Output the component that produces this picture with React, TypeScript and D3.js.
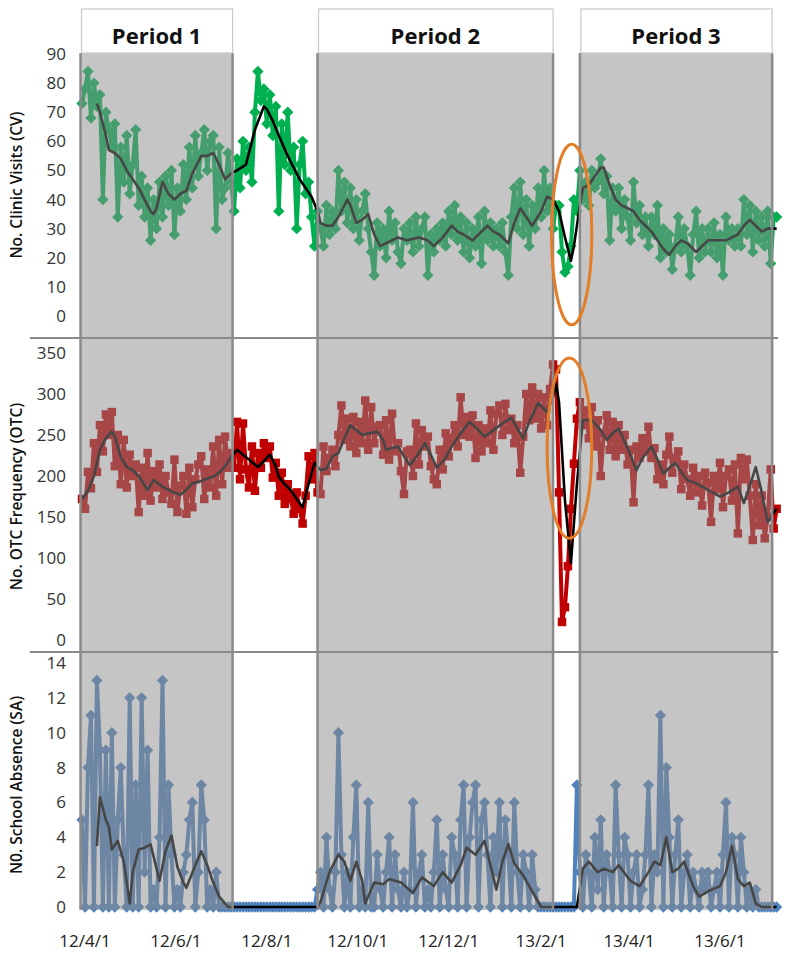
import React from "react";
import * as d3 from "d3";

const W = 789;
const H = 958;

// readings are every second day starting here
const START = new Date(2012, 2, 30);
const STEP_DAYS = 2;

const tickDates = [
  new Date(2012, 3, 1),
  new Date(2012, 5, 1),
  new Date(2012, 7, 1),
  new Date(2012, 9, 1),
  new Date(2012, 11, 1),
  new Date(2013, 1, 1),
  new Date(2013, 3, 1),
  new Date(2013, 5, 1),
];
const tickLabels = ["12/4/1", "12/6/1", "12/8/1", "12/10/1", "12/12/1", "13/2/1", "13/4/1", "13/6/1"];

const periodLabels = ["Period 1", "Period 2", "Period 3"];
const periodStarts = [new Date(2012, 2, 29), new Date(2012, 8, 4), new Date(2013, 1, 27)];
const periodEnds = [new Date(2012, 6, 9), new Date(2013, 1, 9), new Date(2013, 6, 6)];

// clinic visits
const cvValues = [
  73, 78, 84, 68, 80, 72, 76, 40, 70, 64,
  58, 66, 34, 58, 46, 62, 42, 52, 64, 38,
  48, 34, 44, 26, 40, 30, 46, 34, 48, 38,
  50, 28, 44, 36, 52, 40, 58, 44, 62, 48,
  56, 64, 50, 60, 62, 30, 58, 40, 44, 56,
  46, 36, 54, 44, 60, 50, 58, 46, 70, 84,
  74, 78, 66, 76, 62, 72, 36, 66, 52, 70,
  50, 58, 30, 52, 60, 42, 46, 34, 24, 36,
  30, 24, 38, 28, 36, 30, 50, 36, 46, 32,
  44, 30, 40, 26, 36, 42, 30, 22, 14, 32,
  24, 30, 20, 36, 26, 32, 22, 18, 30, 26,
  32, 22, 34, 24, 30, 34, 14, 28, 22, 30,
  26, 32, 24, 36, 28, 38, 26, 34, 22, 32,
  20, 30, 24, 34, 18, 36, 26, 32, 24, 30,
  24, 32, 22, 14, 34, 44, 30, 46, 28, 40,
  24, 38, 30, 44, 34, 50, 36, 44, 30, 38,
  38, 22, 15, 17, 24, 40, 36, 50, 40, 46,
  38, 50, 44, 46, 54, 42, 48, 26, 44, 36,
  44, 30, 40, 34, 26, 46, 32, 38, 28, 34,
  24, 34, 28, 38, 20, 30, 22, 28, 16, 24,
  34, 22, 30, 24, 14, 28, 36, 20, 30, 22,
  30, 22, 32, 20, 28, 14, 34, 26, 30, 24,
  30, 24, 40, 28, 38, 22, 36, 26, 34, 24,
  36, 18, 34, 34,
];
// [step index, value] of the moving average line
const cvTrend: [number, number][] = [
  [5, 73], [6, 70], [8, 62], [9, 57], [11, 56], [13, 54], [15, 50], [17, 47], [19, 44], [21, 40],
  [23, 36], [24, 35], [25, 37], [27, 46], [29, 42], [31, 40], [33, 42], [35, 43], [37, 49], [40, 55],
  [42, 55], [44, 56], [46, 52], [48, 47], [50, 49], [52, 50], [55, 52], [58, 64], [61, 72], [62, 71],
  [64, 67], [66, 62], [69, 55], [71, 51], [73, 47], [75, 44], [77, 41], [79, 36], [80, 32], [82, 31],
  [84, 31], [86, 34], [89, 40], [90, 38], [92, 32], [94, 33], [96, 35], [98, 28], [100, 24], [102, 25],
  [106, 27], [109, 26], [113, 27], [116, 26], [118, 24], [121, 27], [124, 31], [126, 29], [128, 28], [131, 26],
  [134, 29], [136, 31], [138, 29], [140, 28], [143, 25], [145, 32], [147, 37], [149, 34], [151, 31], [154, 36],
  [156, 41], [158, 40], [160, 36], [162, 27], [164, 19], [165, 24], [167, 38], [168, 44], [170, 45], [172, 48],
  [174, 51], [175, 51], [177, 45], [179, 40], [181, 38], [183, 37], [185, 36], [187, 33], [189, 31], [191, 29],
  [193, 26], [195, 23], [197, 21], [199, 24], [201, 26], [203, 25], [204, 24], [206, 22], [208, 24], [210, 26],
  [213, 26], [216, 26], [218, 27], [220, 28], [222, 31], [224, 33], [226, 31], [228, 29], [230, 30], [233, 30],
];

// OTC drug sales
const otcValues = [
  172, 160, 205, 185, 240, 205, 262, 230, 275, 250,
  278, 212, 250, 190, 244, 186, 226, 200, 214, 156,
  210, 176, 228, 170, 206, 186, 214, 172, 200, 180,
  166, 220, 156, 188, 200, 154, 210, 162, 196, 214,
  224, 172, 208, 186, 236, 176, 244, 190, 248, 210,
  228, 210, 266, 196, 264, 208, 186, 236, 182, 228,
  210, 240, 222, 236, 198, 216, 176, 204, 166, 190,
  172, 154, 180, 160, 142, 176, 224, 196, 228, 180,
  178, 236, 206, 222, 232, 212, 250, 286, 244, 270,
  236, 272, 228, 266, 240, 292, 232, 284, 240, 260,
  262, 226, 268, 220, 276, 230, 240, 206, 178, 230,
  232, 200, 264, 214, 256, 236, 248, 212, 196, 190,
  232, 208, 252, 224, 246, 262, 236, 296, 250, 272,
  248, 274, 222, 262, 230, 258, 240, 280, 232, 276,
  286, 250, 288, 256, 270, 240, 262, 204, 248, 300,
  268, 308, 270, 300, 258, 296, 262, 306, 336, 330,
  180, 22, 40, 90, 160, 215, 270, 290, 262, 280,
  246, 284, 236, 268, 200, 252, 274, 232, 266, 224,
  262, 232, 250, 214, 232, 168, 236, 222, 246, 230,
  260, 222, 234, 196, 214, 190, 226, 248, 204, 222,
  230, 184, 214, 196, 176, 210, 180, 200, 164, 204,
  192, 144, 200, 184, 216, 162, 200, 208, 170, 214,
  130, 222, 196, 220, 176, 122, 190, 140, 176, 124,
  150, 208, 136, 160,
];
const otcTrend: [number, number][] = [
  [0, 172], [2, 182], [4, 200], [6, 232], [8, 246], [10, 254], [11, 248], [13, 223], [15, 211], [17, 207],
  [19, 200], [22, 183], [24, 195], [27, 187], [30, 181], [33, 177], [35, 183], [37, 191], [40, 194], [42, 197],
  [44, 199], [46, 204], [48, 212], [50, 223], [52, 232], [54, 226], [56, 220], [59, 211], [61, 218], [63, 226],
  [65, 212], [66, 199], [68, 190], [70, 183], [72, 172], [74, 162], [76, 190], [78, 216], [80, 207], [82, 209],
  [84, 224], [86, 228], [88, 246], [90, 262], [92, 256], [94, 250], [96, 252], [99, 254], [101, 244], [102, 232],
  [104, 234], [106, 236], [108, 224], [110, 213], [113, 228], [115, 240], [117, 226], [119, 210], [122, 222], [124, 236],
  [127, 252], [130, 266], [133, 256], [135, 248], [138, 256], [141, 264], [144, 271], [146, 258], [148, 246], [150, 266],
  [153, 289], [156, 278], [158, 296], [159, 313], [160, 290], [162, 170], [164, 94], [166, 190], [168, 268], [171, 268],
  [174, 256], [176, 244], [178, 252], [180, 258], [183, 234], [186, 207], [188, 222], [191, 236], [193, 220], [195, 203],
  [197, 210], [199, 216], [201, 205], [203, 195], [206, 191], [208, 187], [211, 181], [214, 175], [217, 180], [220, 187],
  [222, 167], [224, 188], [226, 211], [228, 180], [230, 144], [232, 155], [233, 160],
];

// school absence
const saValues = [
  5, 0, 8, 11, 0, 13, 9, 0, 9, 0,
  10, 0, 5, 8, 3, 0, 12, 0, 7, 0,
  12, 2, 9, 0, 1, 0, 4, 13, 0, 7,
  3, 0, 1, 0, 2, 3, 5, 6, 0, 2,
  7, 5, 0, 1, 0, 2, 0, 0, 0, 0,
  0, 0, 0, 0, 0, 0, 0, 0, 0, 0,
  0, 0, 0, 0, 0, 0, 0, 0, 0, 0,
  0, 0, 0, 0, 0, 0, 0, 0, 0, 1,
  2, 0, 4, 1, 0, 2, 10, 3, 0, 2,
  0, 4, 7, 0, 1, 0, 6, 0, 0, 3,
  1, 0, 2, 4, 0, 3, 1, 0, 2, 0,
  1, 6, 0, 2, 3, 0, 1, 0, 2, 5,
  0, 3, 1, 0, 4, 3, 0, 5, 7, 0,
  4, 6, 7, 0, 5, 6, 3, 0, 4, 2,
  6, 0, 5, 3, 0, 6, 2, 0, 3, 2,
  0, 3, 1, 0, 0, 0, 0, 0, 0, 0,
  0, 0, 0, 0, 0, 0, 7, 2, 0, 3,
  2, 0, 4, 1, 5, 0, 3, 2, 0, 7,
  3, 0, 4, 3, 0, 2, 3, 0, 1, 3,
  7, 0, 3, 2, 11, 0, 8, 4, 0, 3,
  5, 0, 2, 3, 0, 2, 1, 0, 2, 1,
  2, 0, 1, 2, 0, 3, 6, 0, 4, 3,
  0, 4, 2, 0, 1, 0, 1, 0, 0, 0,
  0, 0, 0, 0,
];
const saTrend: [number, number][] = [
  [5, 3.5], [6, 6.3], [8, 5], [9, 4.6], [10, 3.3], [12, 3.8], [14, 2.6], [16, 0.2], [17, 2], [19, 3.3],
  [21, 3.4], [23, 3.6], [25, 2.2], [26, 1.5], [28, 3.2], [30, 4.1], [32, 2.3], [34, 1.4], [35, 1.1], [38, 2.4],
  [40, 3.2], [42, 2.4], [44, 1.4], [46, 0.6], [49, 0], [79, 0], [80, 0.3], [83, 2], [86, 3], [88, 2.6],
  [90, 1.5], [92, 2.6], [94, 1.5], [95, 0.2], [98, 1.4], [101, 1.3], [103, 1.6], [107, 1.4], [111, 0.8], [114, 1.7],
  [118, 1.2], [121, 2.0], [124, 1.4], [127, 2.4], [129, 3.4], [132, 3.0], [135, 3.8], [137, 2.4], [139, 1.0], [141, 2.6],
  [143, 3.6], [145, 2.5], [148, 1.8], [150, 1.2], [154, 0], [166, 0], [168, 2.2], [170, 2.6], [173, 2.0], [175, 2.2],
  [178, 2.0], [180, 2.4], [184, 1.5], [187, 1.2], [190, 2.0], [192, 2.6], [194, 2.4], [196, 4.0], [198, 2.0], [200, 2.2],
  [202, 2.6], [205, 1.2], [207, 0.6], [210, 0.9], [214, 1.2], [216, 2.0], [218, 3.5], [220, 1.6], [222, 1.2], [224, 1.4],
  [226, 0.2], [228, 0], [233, 0],
];

// circled anomaly around the Chinese new year holiday
const cvRingDates = [new Date(2013, 1, 8), new Date(2013, 2, 7)];
const cvRingValues = [-3, 59];
const otcRingDates = [new Date(2013, 1, 5), new Date(2013, 2, 7)];
const otcRingValues = [124, 344];

const toDate = (i: number) => d3.timeDay.offset(START, i * STEP_DAYS);

const FONT = "'Open Sans', sans-serif";

export default function App() {
  const x = d3.scaleTime().domain([tickDates[0], tickDates[7]]).range([85, 720]);
  const yCV = d3.scaleLinear().domain([0, 90]).range([316, 54]);
  const yOTC = d3.scaleLinear().domain([0, 350]).range([640, 353]);
  const ySA = d3.scaleLinear().domain([0, 14]).range([907, 663]);

  const panels = [
    { key: "cv", title: "No. Clinic Visits (CV)", y: yCV, ticks: yCV.ticks(10), values: cvValues, trend: cvTrend, color: "#00b050", marker: "diamond" },
    { key: "otc", title: "No. OTC Frequency (OTC)", y: yOTC, ticks: yOTC.ticks(7), values: otcValues, trend: otcTrend, color: "#c00000", marker: "square" },
    { key: "sa", title: "N0. School Absence (SA)", y: ySA, ticks: ySA.ticks(7), values: saValues, trend: saTrend, color: "#4f81bd", marker: "diamond" },
  ];

  const diamond = d3.symbol().type(d3.symbolSquare).size(64)() || "";
  const square = d3.symbol().type(d3.symbolSquare).size(72)() || "";

  const shadeTop = 53;
  const shadeBottom = 910;
  const separators = [338, 652];

  return (
    <svg
      width={W}
      height={H}
      style={{ position: "absolute", left: 0, top: 0, background: "#fff" }}
      fontFamily={FONT}
    >
      <rect width={W} height={H} fill="#fff" />

      {panels.map((p) => {
        const ln = d3
          .line<number>()
          .x((_, i) => x(toDate(i)))
          .y((v) => p.y(v));
        const tl = d3
          .line<[number, number]>()
          .x((d) => x(toDate(d[0])))
          .y((d) => p.y(d[1]));
        return (
          <g key={p.key}>
            <path d={ln(p.values) || ""} fill="none" stroke={p.color} strokeWidth={4} strokeLinejoin="round" />
            {p.values.map((v, i) => (
              <path
                key={i}
                d={p.marker === "square" ? square : diamond}
                fill={p.color}
                transform={`translate(${x(toDate(i))},${p.y(v)})${p.marker === "diamond" ? " rotate(45)" : ""}`}
              />
            ))}
            <path d={tl(p.trend) || ""} fill="none" stroke="#000" strokeWidth={2.6} strokeLinejoin="round" />
          </g>
        );
      })}

      {/* shaded study periods sit over the series */}
      {periodLabels.map((lab, k) => {
        const x0 = x(periodStarts[k]);
        const x1 = x(periodEnds[k]);
        return (
          <g key={lab}>
            <rect x={x0} y={shadeTop} width={x1 - x0} height={shadeBottom - shadeTop} fill="#8c8c8c" fillOpacity={0.5} />
            <line x1={x0} x2={x0} y1={shadeTop} y2={shadeBottom} stroke="#8a8a8a" strokeWidth={2.5} />
            <line x1={x1} x2={x1} y1={shadeTop} y2={shadeBottom} stroke="#8a8a8a" strokeWidth={2.5} />
            <rect x={x0 + 1} y={9} width={x1 - x0 - 1} height={shadeTop - 9} fill="#fff" stroke="#c8c8c8" strokeWidth={1.2} />
            <text
              x={(x0 + x1) / 2}
              y={44}
              textAnchor="middle"
              fontSize={22}
              fontWeight={700}
              fill="#111"
            >
              {lab}
            </text>
          </g>
        );
      })}

      {separators.map((s) => (
        <line key={s} x1={30} x2={778} y1={s} y2={s} stroke="#8a8a8a" strokeWidth={2} />
      ))}

      {/* rings */}
      <ellipse
        cx={(x(cvRingDates[0]) + x(cvRingDates[1])) / 2}
        cy={(yCV(cvRingValues[0]) + yCV(cvRingValues[1])) / 2}
        rx={(x(cvRingDates[1]) - x(cvRingDates[0])) / 2}
        ry={(yCV(cvRingValues[0]) - yCV(cvRingValues[1])) / 2}
        fill="none"
        stroke="#e47d28"
        strokeWidth={3}
      />
      <ellipse
        cx={(x(otcRingDates[0]) + x(otcRingDates[1])) / 2}
        cy={(yOTC(otcRingValues[0]) + yOTC(otcRingValues[1])) / 2}
        rx={(x(otcRingDates[1]) - x(otcRingDates[0])) / 2}
        ry={(yOTC(otcRingValues[0]) - yOTC(otcRingValues[1])) / 2}
        fill="none"
        stroke="#e47d28"
        strokeWidth={3}
      />

      {/* y axes */}
      {panels.map((p) => {
        const [r0, r1] = p.y.range();
        const mid = (r0 + r1) / 2;
        return (
          <g key={p.key + "-axis"}>
            {p.ticks.map((t) => (
              <text key={t} x={66} y={p.y(t)} dy="0.35em" textAnchor="end" fontSize={17} fill="#333">
                {t}
              </text>
            ))}
            <text
              transform={`translate(17,${mid}) rotate(-90)`}
              dy="0.35em"
              textAnchor="middle"
              fontSize={15.5}
              fontWeight={600}
              fill="#111"
            >
              {p.title}
            </text>
          </g>
        );
      })}

      {/* x axis labels */}
      {tickDates.map((d, i) => (
        <text key={i} x={x(d)} y={947} textAnchor="middle" fontSize={17} fill="#222">
          {tickLabels[i]}
        </text>
      ))}
    </svg>
  );
}
